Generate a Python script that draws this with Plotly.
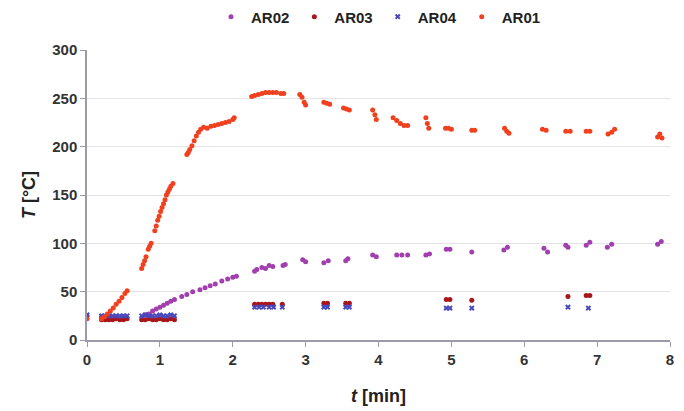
import plotly.graph_objects as go

# AR01 (orange-red)
t_ar01 = [0.0, 0.20, 0.24, 0.28, 0.32, 0.36, 0.40, 0.44, 0.48, 0.52, 0.55,
          0.75, 0.77, 0.79, 0.81, 0.84, 0.86, 0.88,
          0.93, 0.95, 0.97, 0.99, 1.01, 1.03, 1.05, 1.07, 1.09, 1.11, 1.13, 1.15, 1.18,
          1.37, 1.39, 1.41, 1.44, 1.47, 1.50, 1.53, 1.56, 1.60, 1.65, 1.70, 1.75, 1.80,
          1.85, 1.90, 1.95, 2.00, 2.02,
          2.26, 2.30, 2.35, 2.40, 2.45, 2.50, 2.55, 2.60, 2.66, 2.70,
          2.92, 2.95, 2.98, 3.00, 3.25, 3.29, 3.33, 3.52, 3.56, 3.60,
          3.92, 3.95, 3.97, 4.20, 4.25, 4.30, 4.35, 4.40, 4.65, 4.67, 4.69,
          4.92, 4.96, 5.00, 5.28, 5.32, 5.73, 5.76, 5.79, 6.25, 6.30,
          6.57, 6.63, 6.85, 6.90, 7.15, 7.20, 7.24, 7.83, 7.86, 7.89]
T_ar01 = [22, 22, 24, 27, 30, 33, 37, 40, 44, 48, 51,
          74, 78, 82, 86, 94, 97, 100,
          113, 118, 124, 128, 133, 137, 141, 145, 150, 153, 156, 159, 162,
          192, 194, 197, 201, 206, 211, 215, 218, 220, 219, 221, 222, 223,
          224, 225, 226, 228, 230,
          252, 253, 254, 255, 256, 256, 256, 256, 255, 255,
          254, 251, 246, 243, 246, 245, 244, 240, 239, 238,
          238, 233, 228, 230, 227, 224, 222, 222, 230, 224, 219,
          219, 219, 218, 217, 217, 219, 216, 214, 218, 217,
          216, 216, 216, 216, 213, 215, 218, 210, 213, 209]

# AR02 (purple)
t_ar02 = [0.0, 0.20, 0.30, 0.40, 0.50, 0.80, 0.85,
          0.90, 0.95, 1.00, 1.05, 1.10, 1.15, 1.20, 1.30, 1.37, 1.45, 1.55, 1.62,
          1.69, 1.76, 1.85, 1.93, 2.00, 2.05,
          2.30, 2.33, 2.40, 2.45, 2.50, 2.55, 2.69, 2.72, 2.96, 3.00,
          3.25, 3.31, 3.55, 3.58, 3.92, 3.97, 4.25, 4.32, 4.40, 4.65, 4.70,
          4.93, 4.98, 5.28, 5.72, 5.77, 6.27, 6.32, 6.57, 6.60, 6.85, 6.90,
          7.14, 7.20, 7.83, 7.88]
T_ar02 = [25, 24, 24, 24, 24, 26, 27,
          30, 32, 34, 36, 38, 40, 42, 45, 47, 50, 52, 54,
          56, 58, 61, 63, 65, 66,
          71, 73, 75, 74, 77, 76, 77, 78, 83, 81,
          80, 82, 82, 84, 88, 86, 88, 88, 88, 88, 89,
          94, 94, 91, 93, 96, 95, 91, 98, 96, 98, 101,
          96, 99, 99, 102]

# AR03 (dark red)
t_ar03 = [0.20, 0.25, 0.30, 0.35, 0.40, 0.45, 0.50, 0.55,
          0.75, 0.80, 0.85, 0.90, 0.95, 1.00, 1.05, 1.10, 1.15, 1.20,
          2.30, 2.35, 2.40, 2.45, 2.50, 2.55, 2.68,
          3.25, 3.30, 3.55, 3.60, 4.93, 4.98, 5.28, 6.60, 6.85, 6.90]
T_ar03 = [21, 21, 21, 21, 22, 21, 21, 22,
          21, 21, 22, 21, 21, 22, 21, 21, 22, 21,
          37, 37, 37, 37, 37, 37, 37,
          38, 38, 38, 38, 42, 42, 41, 45, 46, 46]

# AR04 (blue x)
t_ar04 = [0.0, 0.20, 0.25, 0.30, 0.35, 0.40, 0.45, 0.50, 0.55,
          0.75, 0.80, 0.85, 0.90, 0.95, 1.00, 1.05, 1.10, 1.15, 1.20,
          2.30, 2.36, 2.42, 2.50, 2.56, 2.68,
          3.25, 3.30, 3.55, 3.60, 4.93, 4.98, 5.28, 6.60, 6.88]
T_ar04 = [26, 25, 25, 25, 25, 25, 25, 25, 25,
          25, 26, 25, 25, 25, 26, 25, 25, 26, 25,
          34, 34, 34, 34, 34, 34,
          34, 34, 34, 34, 33, 33, 33, 34, 33]

fig = go.Figure()
fig.add_trace(go.Scatter(x=t_ar02, y=T_ar02, mode="markers", name="AR02",
                         marker=dict(color="#a23fae", size=5, symbol="circle")))
fig.add_trace(go.Scatter(x=t_ar03, y=T_ar03, mode="markers", name="AR03",
                         marker=dict(color="#a8161a", size=5, symbol="circle")))
fig.add_trace(go.Scatter(x=t_ar04, y=T_ar04, mode="markers", name="AR04",
                         marker=dict(color="#4848bc", size=5, symbol="x")))
fig.add_trace(go.Scatter(x=t_ar01, y=T_ar01, mode="markers", name="AR01",
                         marker=dict(color="#f0401e", size=5, symbol="circle")))

tickfont = dict(family="Liberation Sans, Arial", size=15, color="#333", weight="bold")
axis_common = dict(showline=True, linecolor="#9a9aaa", linewidth=1.5,
                   ticks="outside", ticklen=5, tickcolor="#9a9aaa",
                   tickfont=tickfont, zeroline=False, automargin=False)

fig.update_layout(
    width=684, height=411,
    margin=dict(l=79, r=22, t=42, b=79, autoexpand=False),
    paper_bgcolor="white", plot_bgcolor="white",
    font=dict(family="Liberation Sans, Arial", color="#222"),
    showlegend=True,
    legend=dict(orientation="h", x=0.5, xanchor="center", y=1.114, yanchor="middle",
                font=dict(size=15, color="#222", weight="bold"),
                itemwidth=30, tracegroupgap=0),
    xaxis=dict(range=[0, 8], dtick=1, showgrid=False,
               title=dict(text="<i>t</i> [min]", font=dict(size=18, weight="bold"),
                          standoff=23),
               **axis_common),
    yaxis=dict(range=[0, 300], dtick=50, showgrid=True, gridcolor="#e4e4e8",
               title=dict(text="<i>T</i> [°C]", font=dict(size=18, weight="bold"),
                          standoff=12),
               **axis_common),
)

fig.write_html("out.html")
